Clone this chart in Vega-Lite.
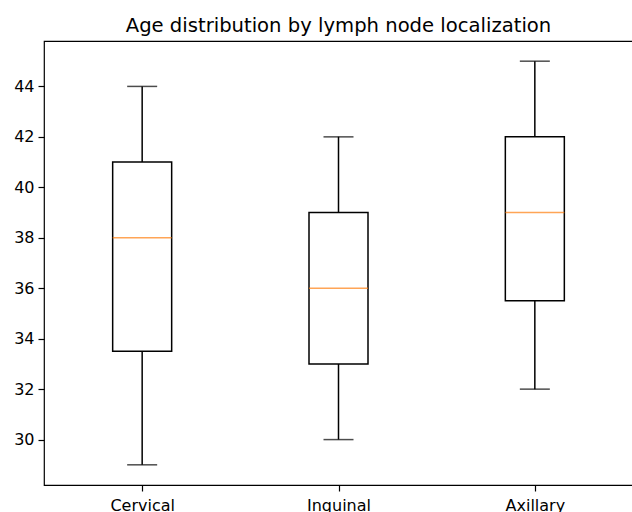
{
  "$schema": "https://vega.github.io/schema/vega-lite/v6.json",
  "width": 589,
  "height": 444,
  "autosize": {"type": "none"},
  "padding": {"left": 44, "top": 41, "right": 0, "bottom": 27},
  "background": "white",
  "config": {
    "font": "DejaVu Sans",
    "view": {"stroke": "black", "strokeWidth": 1.2},
    "axis": {
      "labelFont": "DejaVu Sans",
      "labelFontSize": 16,
      "labelColor": "black",
      "tickColor": "black",
      "tickSize": 6,
      "tickWidth": 1.2,
      "labelPadding": 4,
      "domain": false,
      "grid": false,
      "title": null
    }
  },
  "title": {
    "text": "Age distribution by lymph node localization",
    "font": "DejaVu Sans",
    "fontSize": 19.6,
    "fontWeight": "normal",
    "color": "black",
    "anchor": "middle",
    "baseline": "alphabetic",
    "offset": -11
  },
  "data": {
    "values": [
      {"loc": "Cervical", "min": 29, "q1": 33.5, "median": 38, "q3": 41, "max": 44},
      {"loc": "Inquinal", "min": 30, "q1": 33, "median": 36, "q3": 39, "max": 42},
      {"loc": "Axillary", "min": 32, "q1": 35.5, "median": 39, "q3": 42, "max": 45}
    ]
  },
  "encoding": {
    "x": {
      "field": "loc",
      "type": "nominal",
      "sort": ["Cervical", "Inquinal", "Axillary"],
      "scale": {"type": "point", "padding": 0.5},
      "axis": {"labelAngle": 0, "labelPadding": 6}
    }
  },
  "layer": [
    {
      "mark": {"type": "rule", "color": "black", "strokeWidth": 1.5},
      "encoding": {
        "y": {"field": "min", "type": "quantitative", "scale": {"domain": [28.2, 45.8], "nice": false, "zero": false},
              "axis": {"values": [30, 32, 34, 36, 38, 40, 42, 44]}},
        "y2": {"field": "max"}
      }
    },
    {
      "mark": {"type": "bar", "fill": "white", "stroke": "black", "strokeWidth": 1.5, "size": 59},
      "encoding": {
        "y": {"field": "q1", "type": "quantitative"},
        "y2": {"field": "q3"}
      }
    },
    {
      "mark": {"type": "tick", "color": "black", "size": 30, "thickness": 1.5},
      "encoding": {"y": {"field": "min", "type": "quantitative"}}
    },
    {
      "mark": {"type": "tick", "color": "black", "size": 30, "thickness": 1.5},
      "encoding": {"y": {"field": "max", "type": "quantitative"}}
    },
    {
      "mark": {"type": "tick", "color": "#ff7f0e", "size": 59, "thickness": 1.5},
      "encoding": {"y": {"field": "median", "type": "quantitative"}}
    }
  ]
}
